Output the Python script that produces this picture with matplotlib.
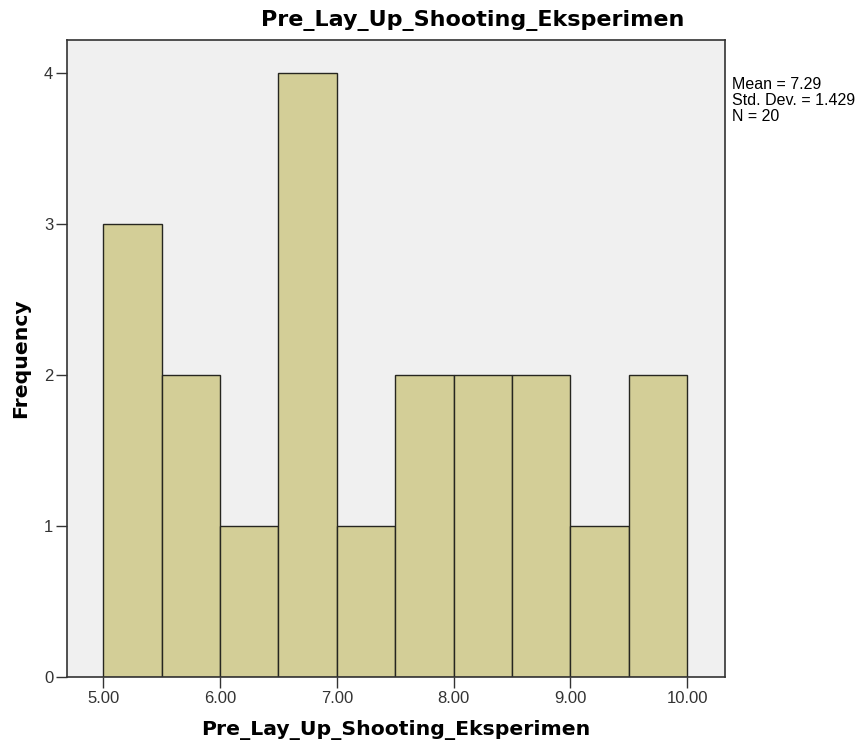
import numpy as np
import matplotlib.pyplot as plt

plt.rcParams['font.family'] = ['Liberation Sans', 'DejaVu Sans']

# histogram of Pre_Lay_Up_Shooting_Eksperimen (N = 20)
bin_edges = [5.0, 5.5, 6.0, 6.5, 7.0, 7.5, 8.0, 8.5, 9.0, 9.5, 10.0]
counts = [3, 2, 1, 4, 1, 2, 2, 2, 1, 2]
x_ticks = [5.0, 6.0, 7.0, 8.0, 9.0, 10.0]
y_ticks = [0, 1, 2, 3, 4]
var_name = 'Pre_Lay_Up_Shooting_Eksperimen'
stats_text = 'Mean = 7.29\nStd. Dev. = 1.429\nN = 20'

fig = plt.figure(figsize=(8.66, 7.53), dpi=100)
ax = fig.add_axes([0.0774, 0.101, 0.760, 0.846])
ax.set_facecolor('#f0f0f0')

lefts = np.array(bin_edges[:-1])
widths = np.diff(bin_edges)
ax.bar(lefts, counts, width=widths, align='edge', color='#d3ce97',
       edgecolor='#262620', linewidth=1.0, zorder=2)

ax.set_xlim(4.69, 10.325)
ax.set_ylim(0, 4.22)
ax.set_xticks(x_ticks)
ax.set_xticklabels([f'{v:.2f}' for v in x_ticks])
ax.set_yticks(y_ticks)
ax.tick_params(axis='both', direction='out', length=8, width=1.0,
               labelsize=12, colors='#333333', pad=2)
for s in ax.spines.values():
    s.set_color('#333333')
    s.set_linewidth(1.2)

lab_font = dict(family='DejaVu Sans', fontsize=14.7, fontweight='bold')
ax.set_xlabel(var_name, labelpad=10, **lab_font)
ax.set_ylabel('Frequency', labelpad=10, **lab_font)
fig.text(0.546, 0.973, var_name, ha='center', va='center',
         family='DejaVu Sans', fontsize=16, fontweight='bold')
fig.text(0.845, 0.898, stats_text, ha='left', va='top', fontsize=11.5,
         linespacing=1.08)

fig.savefig('out.png', dpi=100)
